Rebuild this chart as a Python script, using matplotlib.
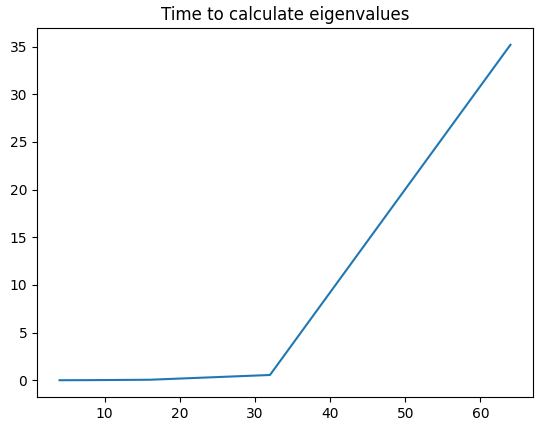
import matplotlib
matplotlib.use("Agg")
import matplotlib.pyplot as plt

# matrix sizes and time to calculate eigenvalues
sizes = [4, 8, 16, 32, 64]
times = [0.0, 0.01, 0.05, 0.55, 35.2]

fig = plt.figure(figsize=(5.43, 4.33), dpi=100)
ax = fig.add_axes([37 / 543, 1 - 397 / 433, 496 / 543, 369 / 433])
ax.plot(sizes, times)
ax.set_title("Time to calculate eigenvalues")

fig.savefig("out.png", dpi=100)
